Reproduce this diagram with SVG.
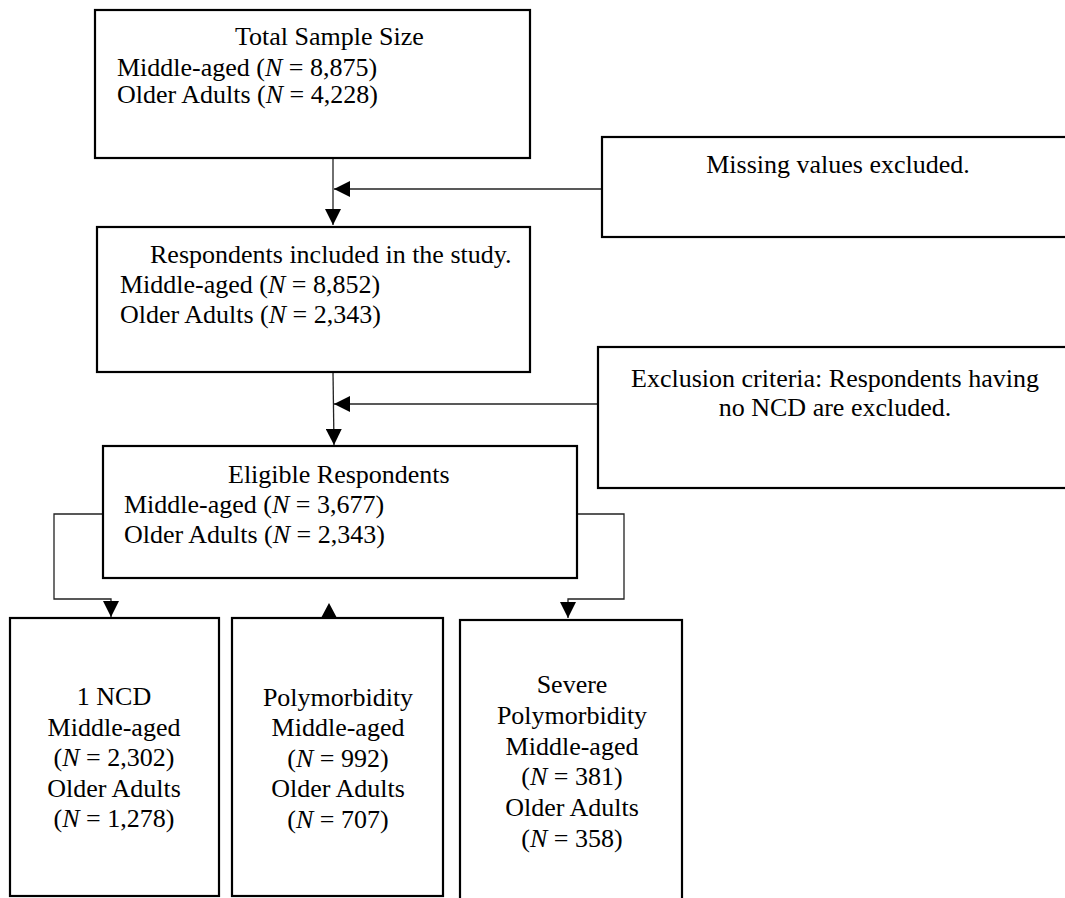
<svg xmlns="http://www.w3.org/2000/svg" width="1065" height="898" viewBox="0 0 1065 898">
<style>
.box{fill:#fff;stroke:#000;stroke-width:2.2}
.t{font-family:"Liberation Serif","Times New Roman",serif;font-size:26px;fill:#000}
.c{text-anchor:middle}
.i{font-style:italic}
.ln{fill:none;stroke:#222;stroke-width:1.3}
</style>
<defs>
<marker id="ah" markerUnits="userSpaceOnUse" markerWidth="16" markerHeight="16" viewBox="0 0 16 16" refX="16" refY="8" orient="auto">
<path d="M0,0 L16,8 L0,16 Z" fill="#000"/>
</marker>
</defs>
<rect width="1065" height="898" fill="#fff"/>
<g id="connectors">
<line class="ln" x1="333" y1="159" x2="333" y2="225" marker-end="url(#ah)"/>
<line class="ln" x1="602" y1="189" x2="334" y2="189" marker-end="url(#ah)"/>
<line class="ln" x1="333" y1="372" x2="334" y2="445" marker-end="url(#ah)"/>
<line class="ln" x1="598" y1="404" x2="334" y2="404" marker-end="url(#ah)"/>
<polyline class="ln" points="103,514 54,514 54,599 111,599 111,617" marker-end="url(#ah)"/>
<polyline class="ln" points="577,514 624,514 624,599 568,599 568,618" marker-end="url(#ah)"/>
<path d="M329,603 L337,618 L321,618 Z" fill="#000"/>
</g>
<g id="total">
<rect class="box" x="95" y="10" width="435" height="148"/>
<text class="t" x="235" y="45">Total Sample Size</text>
<text class="t" x="117" y="76">Middle-aged (<tspan class="i">N</tspan> = 8,875)</text>
<text class="t" x="117" y="103">Older Adults (<tspan class="i">N</tspan> = 4,228)</text>
</g>
<g id="missing">
<rect class="box" x="602" y="137" width="470" height="100"/>
<text class="t c" x="838" y="173">Missing values excluded.</text>
</g>
<g id="included">
<rect class="box" x="97" y="227" width="433" height="145"/>
<text class="t" x="150" y="263">Respondents included in the study.</text>
<text class="t" x="120" y="293">Middle-aged (<tspan class="i">N</tspan> = 8,852)</text>
<text class="t" x="120" y="323">Older Adults (<tspan class="i">N</tspan> = 2,343)</text>
</g>
<g id="exclusion">
<rect class="box" x="598" y="347" width="474" height="141"/>
<text class="t c" x="835" y="387">Exclusion criteria: Respondents having</text>
<text class="t c" x="835" y="416">no NCD are excluded.</text>
</g>
<g id="eligible">
<rect class="box" x="103" y="446" width="474" height="132"/>
<text class="t" x="228" y="483">Eligible Respondents</text>
<text class="t" x="124" y="513">Middle-aged (<tspan class="i">N</tspan> = 3,677)</text>
<text class="t" x="124" y="543">Older Adults (<tspan class="i">N</tspan> = 2,343)</text>
</g>
<g id="onencd">
<rect class="box" x="10" y="618" width="209" height="278"/>
<text class="t c" x="114" y="705">1 NCD</text>
<text class="t c" x="114" y="736">Middle-aged</text>
<text class="t c" x="114" y="766">(<tspan class="i">N</tspan> = 2,302)</text>
<text class="t c" x="114" y="797">Older Adults</text>
<text class="t c" x="114" y="827">(<tspan class="i">N</tspan> = 1,278)</text>
</g>
<g id="poly">
<rect class="box" x="232" y="618" width="211" height="278"/>
<text class="t c" x="338" y="706">Polymorbidity</text>
<text class="t c" x="338" y="736">Middle-aged</text>
<text class="t c" x="338" y="767">(<tspan class="i">N</tspan> = 992)</text>
<text class="t c" x="338" y="797">Older Adults</text>
<text class="t c" x="338" y="828">(<tspan class="i">N</tspan> = 707)</text>
</g>
<g id="severe">
<rect class="box" x="460" y="620" width="222" height="284"/>
<text class="t c" x="572" y="693">Severe</text>
<text class="t c" x="572" y="724">Polymorbidity</text>
<text class="t c" x="572" y="755">Middle-aged</text>
<text class="t c" x="572" y="785">(<tspan class="i">N</tspan> = 381)</text>
<text class="t c" x="572" y="816">Older Adults</text>
<text class="t c" x="572" y="847">(<tspan class="i">N</tspan> = 358)</text>
</g>
</svg>
